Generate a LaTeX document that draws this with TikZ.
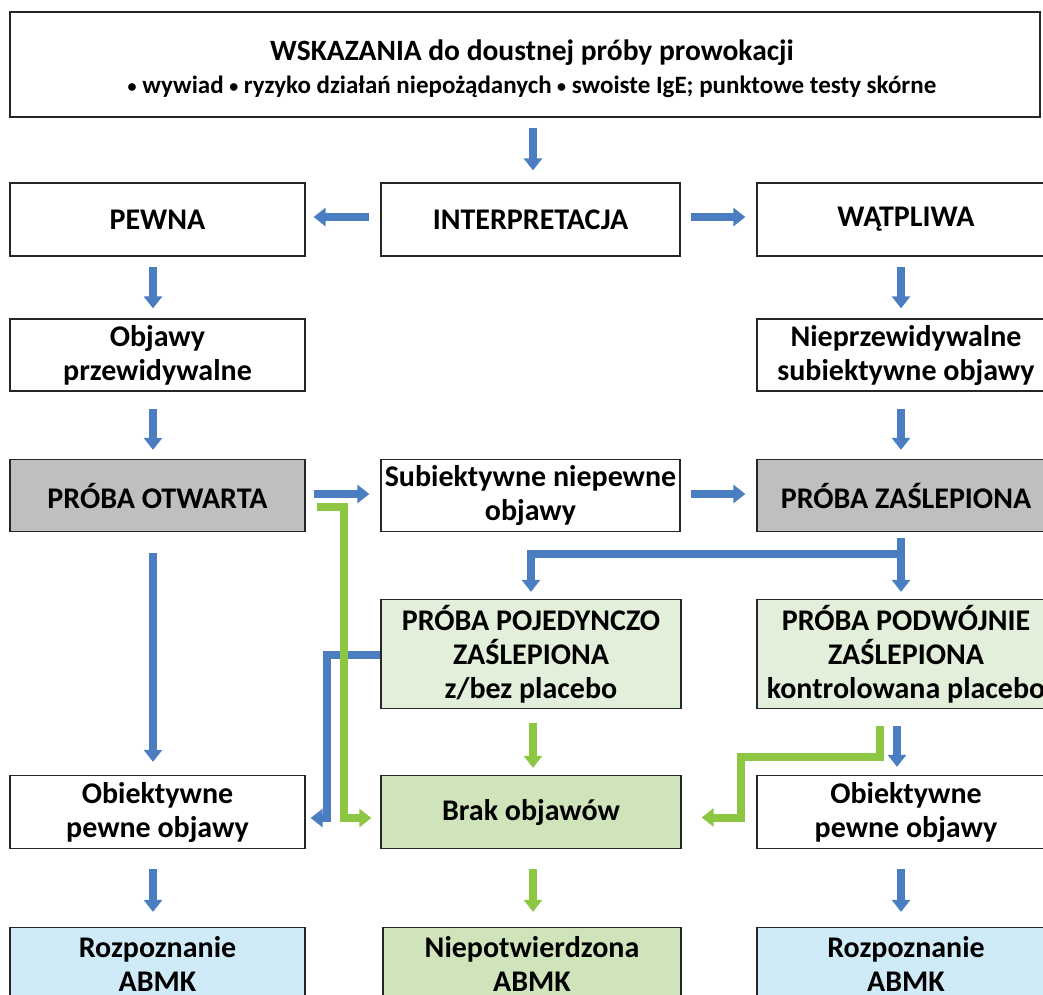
\documentclass[tikz,border=0pt]{standalone}
\usepackage{fontspec}
\setmainfont{Carlito}
\usetikzlibrary{arrows.meta,calc}
\definecolor{ablue}{HTML}{4A7EC1}
\definecolor{agreen}{HTML}{8DC641}
\definecolor{grayfill}{HTML}{BEBFC1}
\definecolor{lgreen}{HTML}{E2EFDA}
\definecolor{mgreen}{HTML}{CFE4BA}
\definecolor{lblue}{HTML}{D0EBF8}
\newcommand{\smbul}{\raisebox{1.5pt}{\fontsize{18}{33}\selectfont •}}
\tikzset{
  box/.style={draw=black!85, line width=1.3pt, minimum width=295pt, minimum height=73pt,
    align=center, inner sep=0pt, font=\fontsize{30}{34}\selectfont\bfseries},
  graybox/.style={box, fill=grayfill},
  lgbox/.style={box, fill=lgreen, minimum height=109pt},
  mgbox/.style={box, fill=mgreen},
  lbbox/.style={box, fill=lblue},
  barrow/.style={draw=ablue, line width=8pt, -{Triangle[width=18pt,length=12pt]}},
  garrow/.style={draw=agreen, line width=8pt, -{Triangle[width=18pt,length=12pt]}},
}
\begin{document}
\begin{tikzpicture}[x=1pt,y=-1pt]
\useasboundingbox (0,0) rectangle (1043,994);
\clip (0,0) rectangle (1043,994);
% nodes
\node[box, minimum width=1030pt, minimum height=105pt] (top) at (525,64.5) {};
\node[align=center, inner sep=0pt, font=\fontsize{29.5}{33}\selectfont\bfseries] (toptext) at (532,69)
  {WSKAZANIA do doustnej próby prowokacji\\
   \fontsize{25}{33}\selectfont \smbul{} wywiad \smbul{} ryzyko działań niepożądanych \smbul{} swoiste IgE; punktowe testy skórne};
\node[box] (pewna) at (157.5,219.5) {PEWNA};
\node[box, minimum width=299pt] (interp) at (530.5,219.5) {INTERPRETACJA};
\node[box, minimum width=298pt] (watp) at (906,219.5) {WĄTPLIWA};
\node[box, minimum height=72pt] (objp) at (157.5,355) {Objawy\\przewidywalne};
\node[box, minimum width=298pt, minimum height=72pt] (niep) at (906,355) {Nieprzewidywalne\\subiektywne objawy};
\node[graybox, minimum height=72pt] (otw) at (157.5,495.5) {PRÓBA OTWARTA};
\node[box, minimum width=299pt, minimum height=72pt] (subi) at (530.5,495.5) {Subiektywne niepewne\\objawy};
\node[graybox, minimum width=298pt, minimum height=72pt] (zasl) at (906,495.5) {PRÓBA ZAŚLEPIONA};
\node[lgbox, minimum width=300pt] (poj) at (531,654) {PRÓBA POJEDYNCZO\\ZAŚLEPIONA\\z/bez placebo};
\node[lgbox, minimum width=298pt] (podw) at (906,654) {PRÓBA PODWÓJNIE\\ZAŚLEPIONA\\kontrolowana placebo};
\node[box] (obiL) at (157.5,812) {Obiektywne\\pewne objawy};
\node[mgbox, minimum width=300pt] (brak) at (531,812) {Brak objawów};
\node[box, minimum width=298pt] (obiR) at (906,812) {Obiektywne\\pewne objawy};
\node[lbbox] (rozL) at (157.5,964) {Rozpoznanie\\ABMK};
\node[mgbox, minimum width=298pt] (niepot) at (532,964) {Niepotwierdzona\\ABMK};
\node[lbbox, minimum width=298pt] (rozR) at (906,964) {Rozpoznanie\\ABMK};
% column coordinates
\coordinate (cL) at (153,0);
\coordinate (cM) at (533,0);
\coordinate (cR) at (901,0);
\coordinate (r2) at (0,217);
\coordinate (r4) at (0,494);
% vertical arrows
\draw[barrow, shorten <=10pt, shorten >=12pt] (top.south -| cM) -- (interp.north -| cM);
\draw[barrow, shorten <=10pt, shorten >=10pt] (pewna.south -| cL) -- (objp.north -| cL);
\draw[barrow, shorten <=10pt, shorten >=10pt] (watp.south -| cR) -- (niep.north -| cR);
\draw[barrow, shorten <=17pt, shorten >=9pt] (objp.south -| cL) -- (otw.north -| cL);
\draw[barrow, shorten <=17pt, shorten >=9pt] (niep.south -| cR) -- (zasl.north -| cR);
\draw[barrow, shorten <=21pt, shorten >=13pt] (otw.south -| cL) -- (obiL.north -| cL);
\draw[barrow, shorten <=20pt, shorten >=15pt] (obiL.south -| cL) -- (rozL.north -| cL);
\draw[barrow, shorten <=20pt, shorten >=15pt] (obiR.south -| cR) -- (rozR.north -| cR);
\draw[garrow, shorten <=20pt, shorten >=15pt] (brak.south -| cM) -- (niepot.north -| cM);
\draw[garrow, shorten <=14pt, shorten >=7pt] (poj.south -| cM) -- (brak.north -| cM);
\draw[barrow, shorten <=17pt, shorten >=8pt] ($(podw.south -| cR)+(-4,0)$) -- ($(obiR.north -| cR)+(-4,0)$);
% horizontal arrows
\draw[barrow, shorten <=11pt, shorten >=8pt] (interp.west |- r2) -- (pewna.east |- r2);
\draw[barrow, shorten <=10pt, shorten >=11pt] (interp.east |- r2) -- (watp.west |- r2);
\draw[barrow, shorten <=8pt, shorten >=11pt] (otw.east |- r4) -- (subi.west |- r4);
\draw[barrow, shorten <=10pt, shorten >=11pt] (subi.east |- r4) -- (watp.west |- r4);
% branch from PROBA ZASLEPIONA
\draw[barrow, shorten <=6pt, shorten >=7pt] (zasl.south -| cR) -- (podw.north -| cR);
\draw[barrow, shorten >=7pt] ($(zasl.south -| cR)+(4,22)$) -| (poj.north);
% blue from POJEDYNCZO to Obiektywne (left)
\draw[barrow] ($(poj.west)+(0,1)$) -| ($(obiL.east)+(21,6)$) -- ($(obiL.east)+(5,6)$);
% green from PROBA OTWARTA to Brak objawow
\draw[garrow] ($(otw.east)+(11,11.5)$) -| ($(brak.west)+(-36,6)$) -- ($(brak.west)+(-9,6)$);
% green from PODWOJNIE to Brak objawow
\draw[garrow] ($(podw.south)+(-26,17)$) |- ($(obiR.west)+(-15,-55)$) |- ($(brak.east)+(20,5.5)$);
\end{tikzpicture}
\end{document}
